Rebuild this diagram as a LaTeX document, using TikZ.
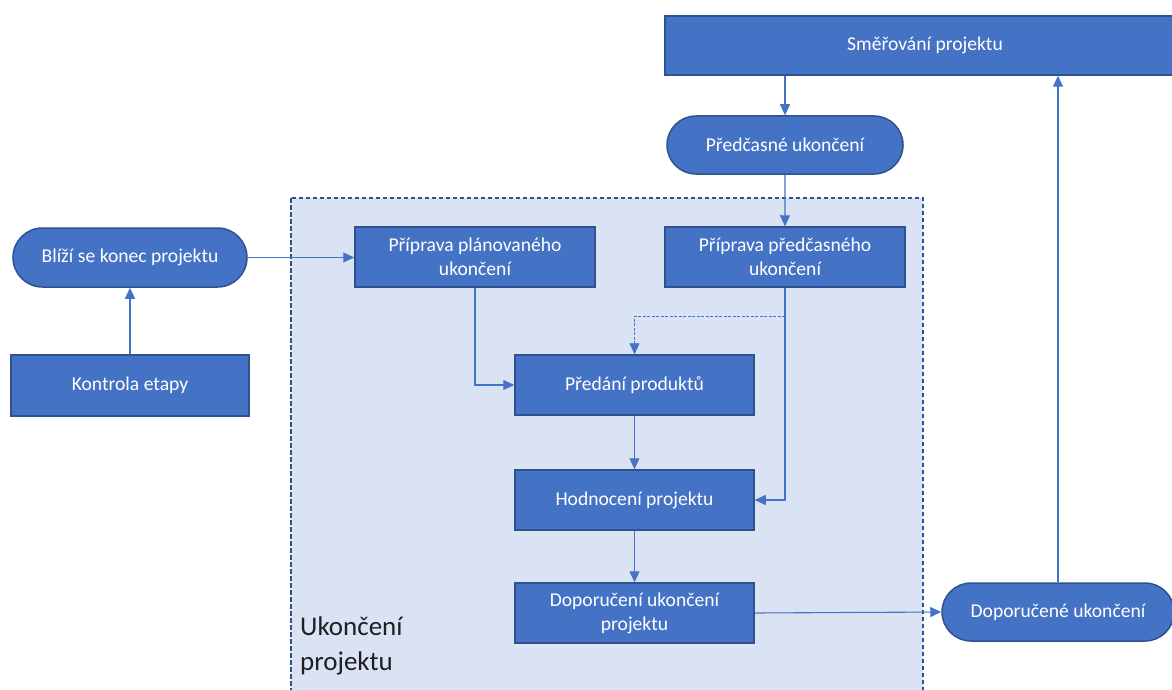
\documentclass[tikz,border=0pt]{standalone}
\usepackage{fontspec}
\setmainfont{Carlito}
\usetikzlibrary{arrows.meta,shapes.misc}
\definecolor{boxfill}{HTML}{4472C4}
\definecolor{boxline}{HTML}{2F528F}
\definecolor{phasefill}{HTML}{DAE3F3}
\definecolor{labeltext}{HTML}{1F1F1F}
\begin{document}
\begin{tikzpicture}[x=1pt,y=-1pt,
  block/.style={rectangle, draw=boxline, line width=1.5pt, fill=boxfill,
    text=white, minimum width=240pt, minimum height=60pt, align=center,
    inner sep=2pt, font=\fontsize{19.6}{24}\selectfont},
  event/.style={block, rounded rectangle, minimum height=58pt},
  flow/.style={draw=boxfill, line width=1.1pt, -{Triangle[length=11pt,width=10pt]}},
  optflow/.style={flow, line width=0.9pt, dash pattern=on 3pt off 1.5pt},
  phase/.style={fill=phasefill, draw=boxline, line width=1.6pt, dash pattern=on 4.5pt off 2.5pt}
]
\clip (0,0) rectangle (1172,690);
\fill[white] (0,0) rectangle (1172,690);

% stage boundary
\draw[phase] (291,198) rectangle (923,720);
\node[anchor=north west, align=left, text=labeltext, inner sep=2pt,
  font=\fontsize{27}{35}\selectfont] (phaselabel) at (298,615) {Ukončení\\projektu};

% triggers and outputs
\node[block, minimum width=520pt, minimum height=59pt] (smer) at (925,45.5) {Směřování projektu};
\node[event] (predc) at (785,145) {Předčasné ukončení};
\node[event, minimum width=238pt, minimum height=59pt] (blizi) at (130,257.5) {Blíží se konec projektu};
\node[block, minimum width=238pt, minimum height=61pt] (kontrola) at (130,385.5) {Kontrola etapy};
\node[event, minimum width=236pt] (doporucene) at (1058,612) {Doporučené ukončení};

% activities of the stage
\node[block] (pplan) at (475,257) {Příprava plánovaného\\ukončení};
\node[block] (ppred) at (785,257) {Příprava předčasného\\ukončení};
\node[block, minimum width=239pt] (predani) at (634.5,385) {Předání produktů};
\node[block, minimum width=239pt] (hodn) at (634.5,500) {Hodnocení projektu};
\node[block, minimum width=239pt] (dopuk) at (634.5,613) {Doporučení ukončení\\projektu};

% connectors
\coordinate (split) at (785,316);
\draw[flow] (smer.south -| predc.north) -- (predc.north);
\draw[flow] (predc) -- (ppred);
\draw[flow] (blizi.east) -- (blizi.east -| pplan.west);
\draw[flow] (kontrola) -- (blizi);
\draw[flow] (pplan.south) |- (predani.west);
\draw[flow] (ppred.south) |- (hodn.east);
\draw[optflow] (split) -| (predani.north);
\draw[flow] (predani) -- (hodn);
\draw[flow] (hodn) -- (dopuk);
\draw[flow] (dopuk.east) -- (doporucene.west);
\draw[flow] (doporucene.north) -- (doporucene.north |- smer.south);
\end{tikzpicture}
\end{document}
